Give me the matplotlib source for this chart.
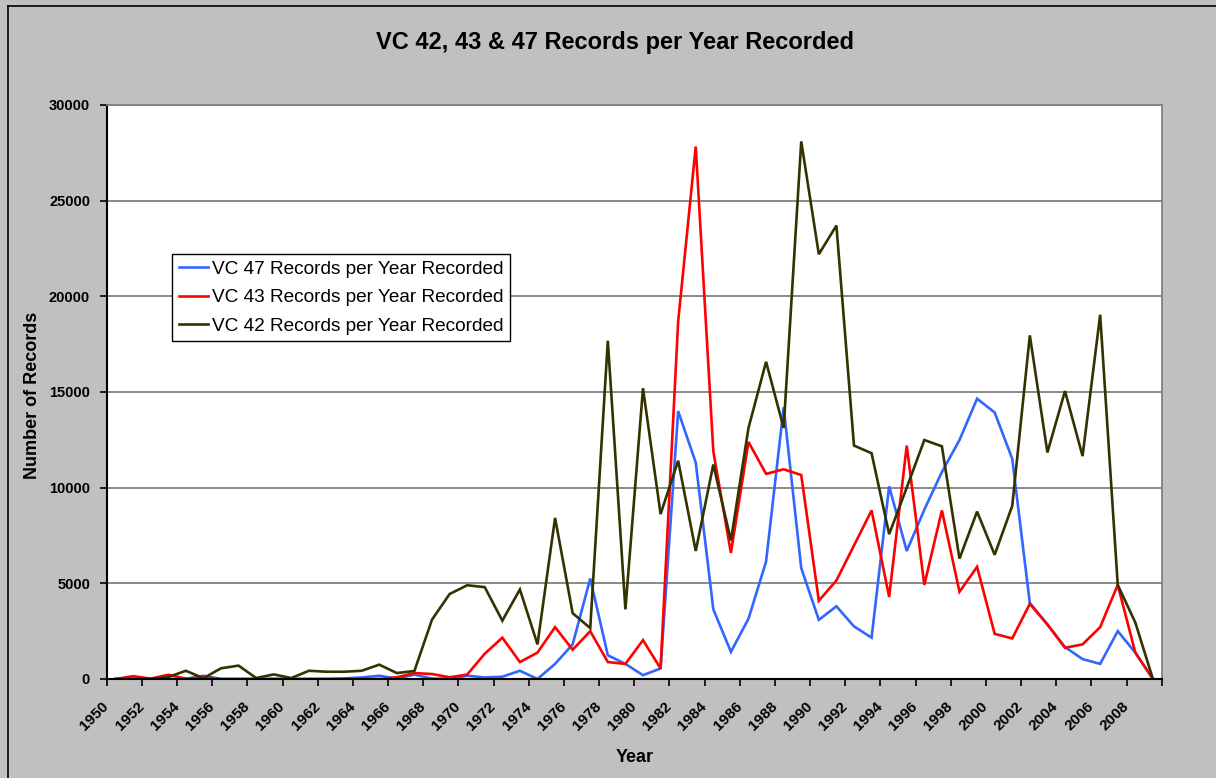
import matplotlib
matplotlib.use("Agg")
import matplotlib.pyplot as plt
import matplotlib.lines as mlines
import numpy as np

##### data #####
years = list(range(1950, 2010))

vc47 = [0, 0, 0, 0, 0, 170, 0, 0, 0, 0, 0, 0, 0, 30, 80, 170,
        20, 230, 20, 20, 170, 80, 120, 430, 0, 790, 1810, 5250, 1240, 790, 200, 550,
        14000, 11310, 3640, 1420, 3150, 6140, 14200, 5800,
        3090, 3800, 2750, 2160, 10070, 6690, 8850, 10820, 12490, 14650,
        13930, 11510, 3970, 2850, 1670, 1040, 790, 2500, 1380, 0]

vc43 = [0, 150, 20, 220, 20, 100, 0, 0, 0, 0, 0, 0, 0, 0, 0, 0,
        90, 310, 260, 90, 230, 1320, 2160, 885, 1380, 2710, 1530, 2500, 885, 790, 2030, 550,
        18690, 27830, 11900, 6590, 12390, 10720, 10960, 10660,
        4090, 5150, 6980, 8810, 4290, 12200, 4920, 8810, 4560, 5860,
        2360, 2120, 3930, 2850, 1630, 1810, 2710, 4920, 1380, 0]

vc42 = [0, 0, 0, 100, 430, 40, 560, 700, 50, 240, 50, 430, 380, 380, 430, 750,
        310, 420, 3100, 4440, 4900, 4800, 3050, 4680, 1810, 8420, 3440, 2660, 17680, 3640, 15200, 8620,
        11410, 6690, 11210, 7240, 13120, 16580, 13120, 28100,
        22200, 23700, 12200, 11800, 7570, 10000, 12490, 12160, 6290, 8750,
        6490, 9050, 17960, 11840, 15050, 11650, 19040, 4920, 2950, 0]

series_names = ["VC 47 Records per Year Recorded",
                "VC 43 Records per Year Recorded",
                "VC 42 Records per Year Recorded"]
series_colors = ["#3366FF", "#FF0000", "#333300"]

##### plotting #####
plt.rcParams["font.family"] = ["Liberation Sans", "DejaVu Sans"]

W, H = 1216, 778
fig = plt.figure(figsize=(W / 100, H / 100), dpi=100, facecolor="#C0C0C0")
left, right, top, bottom = 106.7, 1161.7, 105, 679
ax = fig.add_axes([left / W, 1 - bottom / H, (right - left) / W, (bottom - top) / H])
ax.set_facecolor("white")

x = np.arange(len(years))
for vals, name, col in zip([vc47, vc43, vc42], series_names, series_colors):
    ax.plot(x, vals, color=col, lw=1.9, label=name, solid_joinstyle="miter")

ax.set_xlim(-0.5, len(years) - 0.5)
ax.set_ylim(0, 30000)
ax.set_yticks(range(0, 30001, 5000))
ax.yaxis.grid(True, color="#808080", lw=1.3)
ax.set_axisbelow(True)

# category axis: ticks between categories every 2 years
tick_pos = np.arange(-0.5, len(years), 2)
tick_lab = [str(years[0] + 2 * k) if years[0] + 2 * k <= years[-1] else "" for k in range(len(tick_pos))]
ax.set_xticks(tick_pos)
ax.set_xticklabels(tick_lab, rotation=45, ha="right", va="center", rotation_mode="anchor",
                   fontsize=11, fontweight="bold")
for lab in ax.get_yticklabels():
    lab.set_fontsize(10.5)
    lab.set_fontweight("bold")
ax.tick_params(axis="both", direction="out", length=5, width=1.2, color="black")
ax.tick_params(axis="x", pad=13)
ax.tick_params(axis="y", pad=7)

for s in ["left", "bottom"]:
    ax.spines[s].set_color("black")
    ax.spines[s].set_linewidth(1.5)
for s in ["top", "right"]:
    ax.spines[s].set_color("#808080")
    ax.spines[s].set_linewidth(1.3)

fig.text(614.5 / W, 1 - 43 / H, "VC 42, 43 & 47 Records per Year Recorded",
         ha="center", va="center", fontsize=17, fontweight="bold")
fig.text(635 / W, 1 - 757 / H, "Year", ha="center", va="center", fontsize=13, fontweight="bold")
fig.text(33 / W, 1 - 395 / H, "Number of Records", ha="center", va="center", rotation=90,
         fontsize=13, fontweight="bold")

leg = ax.legend(loc="upper left", bbox_to_anchor=(172 / W, 1 - 254 / H), bbox_transform=fig.transFigure,
                fontsize=13.7, frameon=True, fancybox=False, framealpha=1, edgecolor="black",
                handlelength=1.55, handletextpad=0.2, labelspacing=0.58, borderpad=0.35, borderaxespad=0)
leg.get_frame().set_linewidth(1.0)

# outer chart border (left and top only visible)
fig.add_artist(mlines.Line2D([8 / W, 8 / W], [0, 1 - 6 / H], color="black", lw=1.2))
fig.add_artist(mlines.Line2D([8 / W, 1], [1 - 6 / H, 1 - 6 / H], color="black", lw=1.2))

plt.savefig("out.png", dpi=100, facecolor=fig.get_facecolor())
